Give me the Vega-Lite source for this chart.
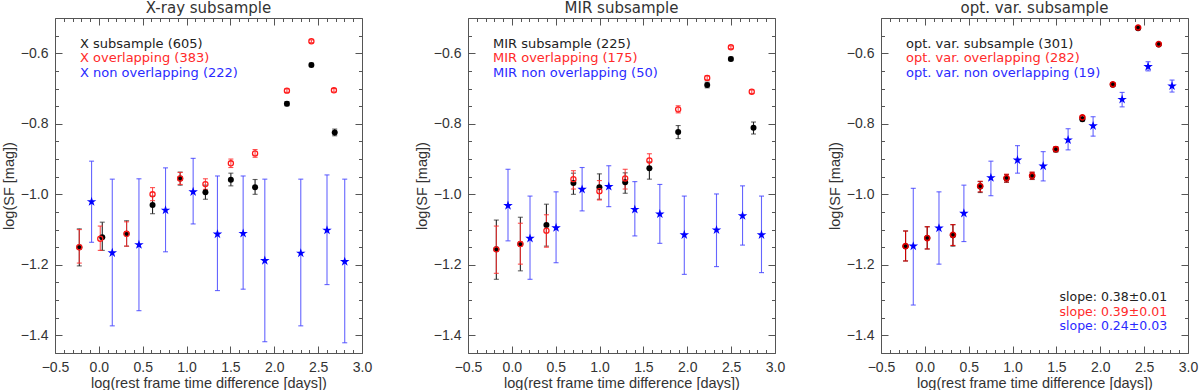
{
"$schema":"https://vega.github.io/schema/vega-lite/v6.json",
"padding":{"left":0,"top":0,"right":0,"bottom":0},
"bounds":"flush",
"spacing":106,
"config":{
 "font":"Liberation Sans",
 "view":{"stroke":"#555","strokeWidth":1},
 "axis":{"grid":false,"labelFontSize":14,"titleFontSize":14.5,"labelColor":"#333","titleColor":"#333","tickColor":"#555","titleFontWeight":"normal","labelFont":"Liberation Sans","titleFont":"Liberation Sans","domain":false,"tickWidth":1},
 "title":{"fontSize":15,"fontWeight":"normal","color":"#333","offset":2,"frame":"group","anchor":"middle","font":"DejaVu Sans"},
 "legend":{"labelFont":"DejaVu Sans"}
},
"resolve":{"scale":{"color":"independent","shape":"independent"},"legend":{"color":"independent","shape":"independent"}},
"data":{"values":[
{"p":1,"s":"sub","x":-0.223,"y":-1.150,"lo":-1.203,"hi":-1.098},
{"p":1,"s":"sub","x":0.039,"y":-1.122,"lo":-1.159,"hi":-1.079},
{"p":1,"s":"sub","x":0.316,"y":-1.112,"lo":-1.147,"hi":-1.075},
{"p":1,"s":"sub","x":0.612,"y":-1.030,"lo":-1.055,"hi":-1.005},
{"p":1,"s":"sub","x":0.927,"y":-0.955,"lo":-0.974,"hi":-0.937},
{"p":1,"s":"sub","x":1.215,"y":-0.994,"lo":-1.014,"hi":-0.974},
{"p":1,"s":"sub","x":1.505,"y":-0.959,"lo":-0.976,"hi":-0.940},
{"p":1,"s":"sub","x":1.781,"y":-0.980,"lo":-1.000,"hi":-0.958},
{"p":1,"s":"sub","x":2.144,"y":-0.743,"lo":-0.749,"hi":-0.737},
{"p":1,"s":"sub","x":2.423,"y":-0.633,"lo":-0.638,"hi":-0.628},
{"p":1,"s":"sub","x":2.689,"y":-0.825,"lo":-0.834,"hi":-0.815},
{"p":1,"s":"ovl","x":-0.223,"y":-1.150,"lo":-1.195,"hi":-1.100},
{"p":1,"s":"ovl","x":0.016,"y":-1.126,"lo":-1.159,"hi":-1.090},
{"p":1,"s":"ovl","x":0.316,"y":-1.112,"lo":-1.147,"hi":-1.078},
{"p":1,"s":"ovl","x":0.612,"y":-1.000,"lo":-1.018,"hi":-0.981},
{"p":1,"s":"ovl","x":0.927,"y":-0.955,"lo":-0.972,"hi":-0.938},
{"p":1,"s":"ovl","x":1.215,"y":-0.971,"lo":-0.986,"hi":-0.956},
{"p":1,"s":"ovl","x":1.505,"y":-0.912,"lo":-0.924,"hi":-0.900},
{"p":1,"s":"ovl","x":1.781,"y":-0.884,"lo":-0.895,"hi":-0.873},
{"p":1,"s":"ovl","x":2.144,"y":-0.706,"lo":-0.711,"hi":-0.701},
{"p":1,"s":"ovl","x":2.423,"y":-0.566,"lo":-0.570,"hi":-0.562},
{"p":1,"s":"ovl","x":2.680,"y":-0.705,"lo":-0.710,"hi":-0.700},
{"p":1,"s":"non","x":-0.083,"y":-1.021,"lo":-1.136,"hi":-0.906},
{"p":1,"s":"non","x":0.153,"y":-1.166,"lo":-1.373,"hi":-0.957},
{"p":1,"s":"non","x":0.457,"y":-1.143,"lo":-1.330,"hi":-0.956},
{"p":1,"s":"non","x":0.760,"y":-1.045,"lo":-1.163,"hi":-0.925},
{"p":1,"s":"non","x":1.075,"y":-0.993,"lo":-1.084,"hi":-0.898},
{"p":1,"s":"non","x":1.352,"y":-1.113,"lo":-1.273,"hi":-0.948},
{"p":1,"s":"non","x":1.645,"y":-1.111,"lo":-1.269,"hi":-0.948},
{"p":1,"s":"non","x":1.892,"y":-1.188,"lo":-1.418,"hi":-0.957},
{"p":1,"s":"non","x":2.302,"y":-1.167,"lo":-1.373,"hi":-0.957},
{"p":1,"s":"non","x":2.601,"y":-1.102,"lo":-1.256,"hi":-0.945},
{"p":1,"s":"non","x":2.803,"y":-1.191,"lo":-1.421,"hi":-0.957},
{"p":2,"s":"sub","x":-0.177,"y":-1.156,"lo":-1.241,"hi":-1.073},
{"p":2,"s":"sub","x":0.097,"y":-1.141,"lo":-1.217,"hi":-1.065},
{"p":2,"s":"sub","x":0.394,"y":-1.087,"lo":-1.147,"hi":-1.028},
{"p":2,"s":"sub","x":0.702,"y":-0.968,"lo":-1.000,"hi":-0.940},
{"p":2,"s":"sub","x":0.998,"y":-0.980,"lo":-1.014,"hi":-0.942},
{"p":2,"s":"sub","x":1.292,"y":-0.966,"lo":-0.997,"hi":-0.939},
{"p":2,"s":"sub","x":1.568,"y":-0.926,"lo":-0.957,"hi":-0.908},
{"p":2,"s":"sub","x":1.896,"y":-0.823,"lo":-0.842,"hi":-0.805},
{"p":2,"s":"sub","x":2.227,"y":-0.690,"lo":-0.698,"hi":-0.682},
{"p":2,"s":"sub","x":2.497,"y":-0.616,"lo":-0.621,"hi":-0.611},
{"p":2,"s":"sub","x":2.755,"y":-0.811,"lo":-0.829,"hi":-0.795},
{"p":2,"s":"ovl","x":-0.177,"y":-1.156,"lo":-1.224,"hi":-1.090},
{"p":2,"s":"ovl","x":0.097,"y":-1.141,"lo":-1.198,"hi":-1.082},
{"p":2,"s":"ovl","x":0.394,"y":-1.103,"lo":-1.150,"hi":-1.058},
{"p":2,"s":"ovl","x":0.702,"y":-0.957,"lo":-0.985,"hi":-0.933},
{"p":2,"s":"ovl","x":0.998,"y":-0.991,"lo":-1.016,"hi":-0.961},
{"p":2,"s":"ovl","x":1.292,"y":-0.955,"lo":-0.985,"hi":-0.929},
{"p":2,"s":"ovl","x":1.568,"y":-0.904,"lo":-0.925,"hi":-0.885},
{"p":2,"s":"ovl","x":1.896,"y":-0.759,"lo":-0.769,"hi":-0.749},
{"p":2,"s":"ovl","x":2.227,"y":-0.670,"lo":-0.676,"hi":-0.664},
{"p":2,"s":"ovl","x":2.497,"y":-0.583,"lo":-0.587,"hi":-0.579},
{"p":2,"s":"ovl","x":2.735,"y":-0.709,"lo":-0.714,"hi":-0.704},
{"p":2,"s":"non","x":-0.044,"y":-1.032,"lo":-1.132,"hi":-0.929},
{"p":2,"s":"non","x":0.207,"y":-1.125,"lo":-1.241,"hi":-1.005},
{"p":2,"s":"non","x":0.504,"y":-1.095,"lo":-1.194,"hi":-0.993},
{"p":2,"s":"non","x":0.801,"y":-0.986,"lo":-1.047,"hi":-0.924},
{"p":2,"s":"non","x":1.105,"y":-0.978,"lo":-1.035,"hi":-0.919},
{"p":2,"s":"non","x":1.402,"y":-1.043,"lo":-1.118,"hi":-0.964},
{"p":2,"s":"non","x":1.687,"y":-1.056,"lo":-1.139,"hi":-0.972},
{"p":2,"s":"non","x":1.966,"y":-1.115,"lo":-1.227,"hi":-1.005},
{"p":2,"s":"non","x":2.333,"y":-1.101,"lo":-1.205,"hi":-0.999},
{"p":2,"s":"non","x":2.630,"y":-1.061,"lo":-1.144,"hi":-0.976},
{"p":2,"s":"non","x":2.846,"y":-1.115,"lo":-1.222,"hi":-1.005},
{"p":3,"s":"sub","slope":"slope: 0.38±0.01","x":-0.220,"y":-1.147,"lo":-1.189,"hi":-1.104},
{"p":3,"s":"sub","slope":"slope: 0.38±0.01","x":0.027,"y":-1.124,"lo":-1.155,"hi":-1.092},
{"p":3,"s":"sub","slope":"slope: 0.38±0.01","x":0.320,"y":-1.116,"lo":-1.147,"hi":-1.086},
{"p":3,"s":"sub","slope":"slope: 0.38±0.01","x":0.631,"y":-0.978,"lo":-0.995,"hi":-0.964},
{"p":3,"s":"sub","slope":"slope: 0.38±0.01","x":0.931,"y":-0.955,"lo":-0.966,"hi":-0.944},
{"p":3,"s":"sub","slope":"slope: 0.38±0.01","x":1.223,"y":-0.948,"lo":-0.958,"hi":-0.938},
{"p":3,"s":"sub","slope":"slope: 0.38±0.01","x":1.493,"y":-0.873,"lo":-0.880,"hi":-0.866},
{"p":3,"s":"sub","slope":"slope: 0.38±0.01","x":1.796,"y":-0.787,"lo":-0.792,"hi":-0.782},
{"p":3,"s":"sub","slope":"slope: 0.38±0.01","x":2.143,"y":-0.689,"lo":-0.693,"hi":-0.685},
{"p":3,"s":"sub","slope":"slope: 0.38±0.01","x":2.431,"y":-0.529,"lo":-0.532,"hi":-0.526},
{"p":3,"s":"sub","slope":"slope: 0.38±0.01","x":2.666,"y":-0.575,"lo":-0.578,"hi":-0.572},
{"p":3,"s":"ovl","x":-0.220,"y":-1.147,"lo":-1.189,"hi":-1.104},
{"p":3,"s":"ovl","x":0.027,"y":-1.124,"lo":-1.155,"hi":-1.092},
{"p":3,"s":"ovl","x":0.320,"y":-1.115,"lo":-1.145,"hi":-1.086},
{"p":3,"s":"ovl","x":0.631,"y":-0.977,"lo":-0.993,"hi":-0.963},
{"p":3,"s":"ovl","x":0.931,"y":-0.954,"lo":-0.965,"hi":-0.943},
{"p":3,"s":"ovl","x":1.223,"y":-0.947,"lo":-0.957,"hi":-0.937},
{"p":3,"s":"ovl","x":1.493,"y":-0.872,"lo":-0.879,"hi":-0.865},
{"p":3,"s":"ovl","x":1.796,"y":-0.782,"lo":-0.787,"hi":-0.777},
{"p":3,"s":"ovl","x":2.143,"y":-0.688,"lo":-0.692,"hi":-0.684},
{"p":3,"s":"ovl","x":2.431,"y":-0.527,"lo":-0.530,"hi":-0.524},
{"p":3,"s":"ovl","x":2.666,"y":-0.574,"lo":-0.577,"hi":-0.571},
{"p":3,"s":"non","x":-0.132,"y":-1.147,"lo":-1.314,"hi":-0.983},
{"p":3,"s":"non","x":0.161,"y":-1.096,"lo":-1.198,"hi":-0.993},
{"p":3,"s":"non","x":0.445,"y":-1.054,"lo":-1.134,"hi":-0.974},
{"p":3,"s":"non","x":0.753,"y":-0.953,"lo":-1.004,"hi":-0.906},
{"p":3,"s":"non","x":1.056,"y":-0.903,"lo":-0.940,"hi":-0.862},
{"p":3,"s":"non","x":1.349,"y":-0.920,"lo":-0.962,"hi":-0.879},
{"p":3,"s":"non","x":1.633,"y":-0.846,"lo":-0.874,"hi":-0.814},
{"p":3,"s":"non","x":1.918,"y":-0.806,"lo":-0.835,"hi":-0.780},
{"p":3,"s":"non","x":2.249,"y":-0.731,"lo":-0.752,"hi":-0.711},
{"p":3,"s":"non","x":2.545,"y":-0.638,"lo":-0.650,"hi":-0.624},
{"p":3,"s":"non","x":2.818,"y":-0.693,"lo":-0.710,"hi":-0.676}
]},
"hconcat":[
{
 "width":307,"height":335,"title":"X-ray subsample",
 "transform":[{"filter":"datum.p==1"}],
 "resolve":{"axis":{"x":"independent","y":"independent"}},
 "layer":[
  {"transform":[{"filter":"datum.s=='sub'"}],"mark":{"type":"errorbar","ticks":{"size":5},"color":"#222","thickness":1.1},
   "encoding":{"x":{"field":"x","type":"quantitative","scale":{"domain":[-0.5,3.0],"nice":false,"zero":false},"axis":{"orient":"top","values":[-0.4,-0.3,-0.2,-0.1,0.1,0.2,0.3,0.4,0.6,0.7,0.8,0.9,1.1,1.2,1.3,1.4,1.6,1.7,1.8,1.9,2.1,2.2,2.3,2.4,2.6,2.7,2.8,2.9],"tickSize":-3.5,"labels":false,"title":null}},
    "y":{"field":"lo","type":"quantitative","scale":{"domain":[-1.45,-0.5],"nice":false,"zero":false},"axis":{"orient":"right","values":[-1.45,-1.35,-1.3,-1.25,-1.15,-1.1,-1.05,-0.95,-0.9,-0.85,-0.75,-0.7,-0.65,-0.55],"tickSize":-3.5,"labels":false,"title":null}},
    "y2":{"field":"hi"}}},
  {"transform":[{"filter":"datum.s=='ovl'"}],"mark":{"type":"errorbar","ticks":{"size":5},"color":"#ff3030","opacity":0.85,"thickness":1.1},
   "encoding":{"x":{"field":"x","type":"quantitative","axis":null},"y":{"field":"lo","type":"quantitative","axis":null},"y2":{"field":"hi"}}},
  {"transform":[{"filter":"datum.s=='non'"}],"mark":{"type":"errorbar","ticks":{"size":5},"color":"#4040ff","opacity":0.8,"thickness":1.1},
   "encoding":{"x":{"field":"x","type":"quantitative","axis":null},"y":{"field":"lo","type":"quantitative","axis":null},"y2":{"field":"hi"}}},
  {"transform":[{"filter":"datum.s=='sub'"}],"mark":{"type":"point","shape":"circle","filled":true,"size":36,"opacity":1},
   "encoding":{"x":{"field":"x","type":"quantitative","scale":{"domain":[-0.5,3.0],"nice":false,"zero":false},"axis":{"orient":"bottom","values":[-0.5,0,0.5,1,1.5,2,2.5,3],"format":".1f","tickSize":-7,"labelPadding":14,"title":"log(rest frame time difference [days])","titlePadding":2,"labelFlush":false}},
    "y":{"field":"y","type":"quantitative","scale":{"domain":[-1.45,-0.5],"nice":false,"zero":false},"axis":{"orient":"left","values":[-1.4,-1.2,-1.0,-0.8,-0.6],"format":".1f","tickSize":-7,"labelPadding":14,"title":"log(SF [mag])","titlePadding":4}},
    "color":{"field":"s","type":"nominal","scale":{"domain":["sub","ovl","non"],"range":["#000000","#ff0000","#0000ff"]},
     "legend":{"orient":"top-left","offset":19,"title":null,"padding":0,"symbolSize":0,"symbolOpacity":0,"symbolStrokeWidth":0,"labelOffset":-7,"labelFontSize":13,"rowPadding":0.5,"labelLimit":400,
      "labelExpr":"datum.value=='ovl'?'X overlapping (383)':datum.value=='non'?'X non overlapping (222)':'X subsample (605)'",
      "labelColor":{"expr":"datum.value=='ovl'?'#ff2a2a':datum.value=='non'?'#2a2aff':'#222222'"}}}}},
  {"transform":[{"filter":"datum.s=='ovl'"}],"mark":{"type":"point","shape":"circle","filled":false,"size":26,"strokeWidth":1.3,"color":"#ff1a1a","opacity":1},
   "encoding":{"x":{"field":"x","type":"quantitative","axis":{"orient":"bottom","values":[-0.4,-0.3,-0.2,-0.1,0.1,0.2,0.3,0.4,0.6,0.7,0.8,0.9,1.1,1.2,1.3,1.4,1.6,1.7,1.8,1.9,2.1,2.2,2.3,2.4,2.6,2.7,2.8,2.9],"tickSize":-3.5,"labels":false,"title":null}},
    "y":{"field":"y","type":"quantitative","axis":{"orient":"left","values":[-1.45,-1.35,-1.3,-1.25,-1.15,-1.1,-1.05,-0.95,-0.9,-0.85,-0.75,-0.7,-0.65,-0.55],"tickSize":-3.5,"labels":false,"title":null}}}},
  {"transform":[{"filter":"datum.s=='non'"}],"mark":{"type":"point","shape":"M0,-1L0.2245,-0.309L0.951,-0.309L0.3633,0.118L0.5878,0.809L0,0.382L-0.5878,0.809L-0.3633,0.118L-0.951,-0.309L-0.2245,-0.309Z","filled":true,"size":100,"color":"#0000ff","opacity":1},
   "encoding":{"x":{"field":"x","type":"quantitative","axis":{"orient":"top","values":[-0.5,0,0.5,1,1.5,2,2.5,3],"tickSize":-7,"labels":false,"title":null}},
    "y":{"field":"y","type":"quantitative","axis":{"orient":"right","values":[-1.4,-1.2,-1.0,-0.8,-0.6],"tickSize":-7,"labels":false,"title":null}}}}
 ]
},
{
 "width":307,"height":335,"title":"MIR subsample",
 "transform":[{"filter":"datum.p==2"}],
 "resolve":{"axis":{"x":"independent","y":"independent"}},
 "layer":[
  {"transform":[{"filter":"datum.s=='sub'"}],"mark":{"type":"errorbar","ticks":{"size":5},"color":"#222","thickness":1.1},
   "encoding":{"x":{"field":"x","type":"quantitative","scale":{"domain":[-0.5,3.0],"nice":false,"zero":false},"axis":{"orient":"top","values":[-0.4,-0.3,-0.2,-0.1,0.1,0.2,0.3,0.4,0.6,0.7,0.8,0.9,1.1,1.2,1.3,1.4,1.6,1.7,1.8,1.9,2.1,2.2,2.3,2.4,2.6,2.7,2.8,2.9],"tickSize":-3.5,"labels":false,"title":null}},
    "y":{"field":"lo","type":"quantitative","scale":{"domain":[-1.45,-0.5],"nice":false,"zero":false},"axis":{"orient":"right","values":[-1.45,-1.35,-1.3,-1.25,-1.15,-1.1,-1.05,-0.95,-0.9,-0.85,-0.75,-0.7,-0.65,-0.55],"tickSize":-3.5,"labels":false,"title":null}},
    "y2":{"field":"hi"}}},
  {"transform":[{"filter":"datum.s=='ovl'"}],"mark":{"type":"errorbar","ticks":{"size":5},"color":"#ff3030","opacity":0.85,"thickness":1.1},
   "encoding":{"x":{"field":"x","type":"quantitative","axis":null},"y":{"field":"lo","type":"quantitative","axis":null},"y2":{"field":"hi"}}},
  {"transform":[{"filter":"datum.s=='non'"}],"mark":{"type":"errorbar","ticks":{"size":5},"color":"#4040ff","opacity":0.8,"thickness":1.1},
   "encoding":{"x":{"field":"x","type":"quantitative","axis":null},"y":{"field":"lo","type":"quantitative","axis":null},"y2":{"field":"hi"}}},
  {"transform":[{"filter":"datum.s=='sub'"}],"mark":{"type":"point","shape":"circle","filled":true,"size":36,"opacity":1},
   "encoding":{"x":{"field":"x","type":"quantitative","scale":{"domain":[-0.5,3.0],"nice":false,"zero":false},"axis":{"orient":"bottom","values":[-0.5,0,0.5,1,1.5,2,2.5,3],"format":".1f","tickSize":-7,"labelPadding":14,"title":"log(rest frame time difference [days])","titlePadding":2,"labelFlush":false}},
    "y":{"field":"y","type":"quantitative","scale":{"domain":[-1.45,-0.5],"nice":false,"zero":false},"axis":{"orient":"left","values":[-1.4,-1.2,-1.0,-0.8,-0.6],"format":".1f","tickSize":-7,"labelPadding":14,"title":"log(SF [mag])","titlePadding":4}},
    "color":{"field":"s","type":"nominal","scale":{"domain":["sub","ovl","non"],"range":["#000000","#ff0000","#0000ff"]},
     "legend":{"orient":"top-left","offset":19,"title":null,"padding":0,"symbolSize":0,"symbolOpacity":0,"symbolStrokeWidth":0,"labelOffset":-7,"labelFontSize":13,"rowPadding":0.5,"labelLimit":400,
      "labelExpr":"datum.value=='ovl'?'MIR overlapping (175)':datum.value=='non'?'MIR non overlapping (50)':'MIR subsample (225)'",
      "labelColor":{"expr":"datum.value=='ovl'?'#ff2a2a':datum.value=='non'?'#2a2aff':'#222222'"}}}}},
  {"transform":[{"filter":"datum.s=='ovl'"}],"mark":{"type":"point","shape":"circle","filled":false,"size":26,"strokeWidth":1.3,"color":"#ff1a1a","opacity":1},
   "encoding":{"x":{"field":"x","type":"quantitative","axis":{"orient":"bottom","values":[-0.4,-0.3,-0.2,-0.1,0.1,0.2,0.3,0.4,0.6,0.7,0.8,0.9,1.1,1.2,1.3,1.4,1.6,1.7,1.8,1.9,2.1,2.2,2.3,2.4,2.6,2.7,2.8,2.9],"tickSize":-3.5,"labels":false,"title":null}},
    "y":{"field":"y","type":"quantitative","axis":{"orient":"left","values":[-1.45,-1.35,-1.3,-1.25,-1.15,-1.1,-1.05,-0.95,-0.9,-0.85,-0.75,-0.7,-0.65,-0.55],"tickSize":-3.5,"labels":false,"title":null}}}},
  {"transform":[{"filter":"datum.s=='non'"}],"mark":{"type":"point","shape":"M0,-1L0.2245,-0.309L0.951,-0.309L0.3633,0.118L0.5878,0.809L0,0.382L-0.5878,0.809L-0.3633,0.118L-0.951,-0.309L-0.2245,-0.309Z","filled":true,"size":100,"color":"#0000ff","opacity":1},
   "encoding":{"x":{"field":"x","type":"quantitative","axis":{"orient":"top","values":[-0.5,0,0.5,1,1.5,2,2.5,3],"tickSize":-7,"labels":false,"title":null}},
    "y":{"field":"y","type":"quantitative","axis":{"orient":"right","values":[-1.4,-1.2,-1.0,-0.8,-0.6],"tickSize":-7,"labels":false,"title":null}}}}
 ]
},
{
 "width":307,"height":335,"title":"opt. var. subsample",
 "transform":[{"filter":"datum.p==3"}],
 "resolve":{"axis":{"x":"independent","y":"independent"}},
 "layer":[
  {"transform":[{"filter":"datum.s=='sub'"}],"mark":{"type":"errorbar","ticks":{"size":5},"color":"#222","thickness":1.1},
   "encoding":{"x":{"field":"x","type":"quantitative","scale":{"domain":[-0.5,3.0],"nice":false,"zero":false},"axis":{"orient":"top","values":[-0.4,-0.3,-0.2,-0.1,0.1,0.2,0.3,0.4,0.6,0.7,0.8,0.9,1.1,1.2,1.3,1.4,1.6,1.7,1.8,1.9,2.1,2.2,2.3,2.4,2.6,2.7,2.8,2.9],"tickSize":-3.5,"labels":false,"title":null}},
    "y":{"field":"lo","type":"quantitative","scale":{"domain":[-1.45,-0.5],"nice":false,"zero":false},"axis":{"orient":"right","values":[-1.45,-1.35,-1.3,-1.25,-1.15,-1.1,-1.05,-0.95,-0.9,-0.85,-0.75,-0.7,-0.65,-0.55],"tickSize":-3.5,"labels":false,"title":null}},
    "y2":{"field":"hi"}}},
  {"transform":[{"filter":"datum.s=='ovl'"}],"mark":{"type":"errorbar","ticks":{"size":5},"color":"#e00000","opacity":0.9,"thickness":1.1},
   "encoding":{"x":{"field":"x","type":"quantitative","axis":null},"y":{"field":"lo","type":"quantitative","axis":null},"y2":{"field":"hi"}}},
  {"transform":[{"filter":"datum.s=='non'"}],"mark":{"type":"errorbar","ticks":{"size":5},"color":"#4040ff","opacity":0.8,"thickness":1.1},
   "encoding":{"x":{"field":"x","type":"quantitative","axis":null},"y":{"field":"lo","type":"quantitative","axis":null},"y2":{"field":"hi"}}},
  {"transform":[{"filter":"datum.s=='sub'"}],"mark":{"type":"point","filled":true,"size":36,"opacity":1},
   "encoding":{"x":{"field":"x","type":"quantitative","scale":{"domain":[-0.5,3.0],"nice":false,"zero":false},"axis":{"orient":"bottom","values":[-0.5,0,0.5,1,1.5,2,2.5,3],"format":".1f","tickSize":-7,"labelPadding":14,"title":"log(rest frame time difference [days])","titlePadding":2,"labelFlush":false}},
    "y":{"field":"y","type":"quantitative","scale":{"domain":[-1.45,-0.5],"nice":false,"zero":false},"axis":{"orient":"left","values":[-1.4,-1.2,-1.0,-0.8,-0.6],"format":".1f","tickSize":-7,"labelPadding":14,"title":"log(SF [mag])","titlePadding":4}},
    "color":{"field":"s","type":"nominal","scale":{"domain":["sub","ovl","non"],"range":["#000000","#ff0000","#0000ff"]},
     "legend":{"orient":"top-left","offset":19,"title":null,"padding":0,"symbolSize":0,"symbolOpacity":0,"symbolStrokeWidth":0,"labelOffset":-7,"labelFontSize":13,"rowPadding":0.5,"labelLimit":400,
      "labelExpr":"datum.value=='ovl'?'opt. var. overlapping (282)':datum.value=='non'?'opt. var. non overlapping (19)':'opt. var. subsample (301)'",
      "labelColor":{"expr":"datum.value=='ovl'?'#ff2a2a':datum.value=='non'?'#2a2aff':'#222222'"}}},
    "shape":{"field":"slope","type":"nominal","scale":{"domain":["slope: 0.38±0.01","slope: 0.39±0.01","slope: 0.24±0.03"],"range":["circle","circle","circle"]},
     "legend":{"orient":"bottom-right","offset":20,"title":null,"padding":0,"symbolSize":0,"symbolOpacity":0,"symbolStrokeWidth":0,"labelOffset":-7,"labelFontSize":12.5,"rowPadding":1.5,"labelLimit":400,
      "labelColor":{"expr":"indexof(datum.value,'0.39')>=0?'#ff2a2a':indexof(datum.value,'0.24')>=0?'#2a2aff':'#222222'"}}}}},
  {"transform":[{"filter":"datum.s=='ovl'"}],"mark":{"type":"point","shape":"circle","filled":false,"size":26,"strokeWidth":1.6,"color":"#e00000","opacity":1},
   "encoding":{"x":{"field":"x","type":"quantitative","axis":{"orient":"bottom","values":[-0.4,-0.3,-0.2,-0.1,0.1,0.2,0.3,0.4,0.6,0.7,0.8,0.9,1.1,1.2,1.3,1.4,1.6,1.7,1.8,1.9,2.1,2.2,2.3,2.4,2.6,2.7,2.8,2.9],"tickSize":-3.5,"labels":false,"title":null}},
    "y":{"field":"y","type":"quantitative","axis":{"orient":"left","values":[-1.45,-1.35,-1.3,-1.25,-1.15,-1.1,-1.05,-0.95,-0.9,-0.85,-0.75,-0.7,-0.65,-0.55],"tickSize":-3.5,"labels":false,"title":null}}}},
  {"transform":[{"filter":"datum.s=='non'"}],"mark":{"type":"point","shape":"M0,-1L0.2245,-0.309L0.951,-0.309L0.3633,0.118L0.5878,0.809L0,0.382L-0.5878,0.809L-0.3633,0.118L-0.951,-0.309L-0.2245,-0.309Z","filled":true,"size":100,"color":"#0000ff","opacity":1},
   "encoding":{"x":{"field":"x","type":"quantitative","axis":{"orient":"top","values":[-0.5,0,0.5,1,1.5,2,2.5,3],"tickSize":-7,"labels":false,"title":null}},
    "y":{"field":"y","type":"quantitative","axis":{"orient":"right","values":[-1.4,-1.2,-1.0,-0.8,-0.6],"tickSize":-7,"labels":false,"title":null}}}}
 ]
}
]
}
